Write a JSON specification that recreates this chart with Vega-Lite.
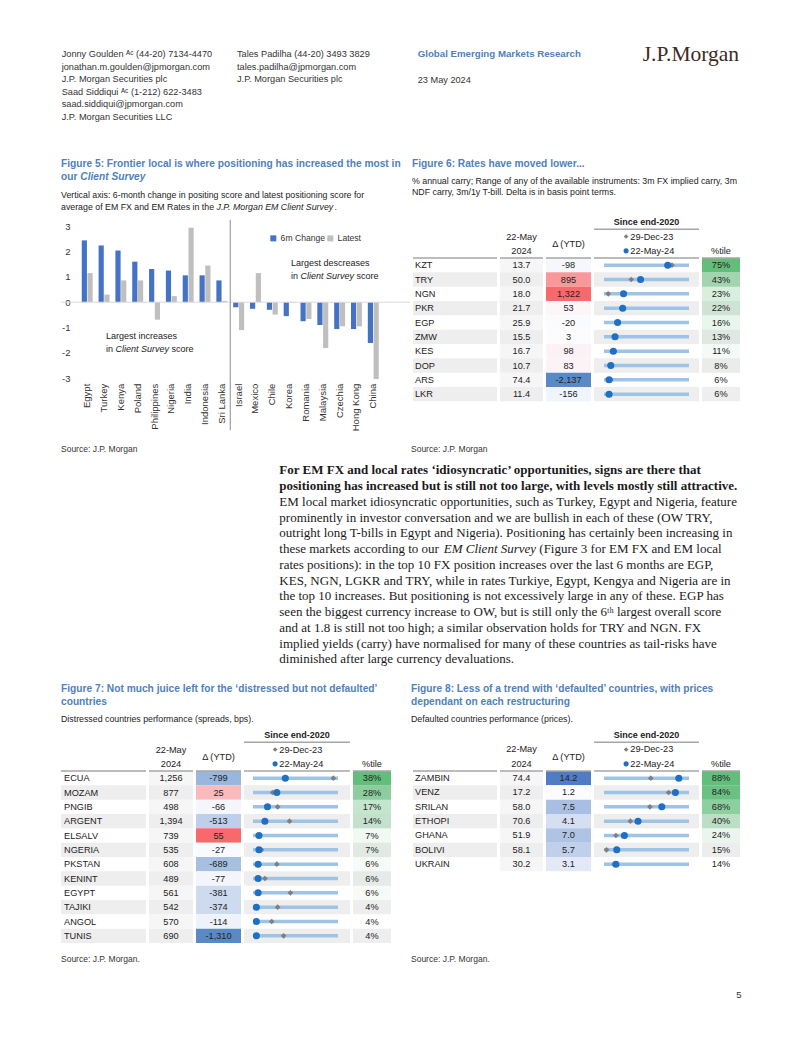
{
"$schema": "https://vega.github.io/schema/vega-lite/v6.json",
"background": "white",
"padding": {"left": 60, "top": 0, "right": 0, "bottom": 0},
"bounds": "full",
"spacing": 0,
"resolve": {"scale": {"color": "independent", "opacity": "independent"}},
"config": {
  "view": {"stroke": null},
  "locale": {"number": {"decimal": ".", "thousands": ",", "grouping": [3], "currency": ["$", ""], "minus": "-"}},
  "font": "Liberation Sans, Arial, sans-serif",
  "text": {"font": "Liberation Sans, Arial, sans-serif", "fontSize": 9.2, "color": "#222", "baseline": "middle"},
  "axis": {"labelFont": "Liberation Sans, Arial, sans-serif", "labelFontSize": 9.5, "labelColor": "#333", "domain": false, "ticks": false, "grid": false, "labelOverlap": false},
  "legend": {"labelFont": "Liberation Sans, Arial, sans-serif", "labelFontSize": 8.6, "labelColor": "#333"}
},
"datasets": {
  "hdr": [
    {"c": "a", "ln": 1, "t": "Jonny Goulden ᴬᶜ (44-20) 7134-4470"},
    {"c": "a", "ln": 2, "t": "jonathan.m.goulden@jpmorgan.com"},
    {"c": "a", "ln": 3, "t": "J.P. Morgan Securities plc"},
    {"c": "a", "ln": 4, "t": "Saad Siddiqui ᴬᶜ (1-212) 622-3483"},
    {"c": "a", "ln": 5, "t": "saad.siddiqui@jpmorgan.com"},
    {"c": "a", "ln": 6, "t": "J.P. Morgan Securities LLC"},
    {"c": "b", "ln": 1, "t": "Tales Padilha  (44-20) 3493 3829"},
    {"c": "b", "ln": 2, "t": "tales.padilha@jpmorgan.com"},
    {"c": "b", "ln": 3, "t": "J.P. Morgan Securities plc"}
  ],
  "para": [
    {"ln": 3, "t": "EM local market idiosyncratic opportunities, such as Turkey, Egypt and Nigeria, feature"},
    {"ln": 4, "t": "prominently in investor conversation and we are bullish in each of these (OW TRY,"},
    {"ln": 5, "t": "outright long T-bills in Egypt and Nigeria). Positioning has certainly been increasing in"},
    {"ln": 6, "t": "these markets according to our"},
    {"ln": 7, "t": "rates positions): in the top 10 FX position increases over the last 6 months are EGP,"},
    {"ln": 8, "t": "KES, NGN, LGKR and TRY, while in rates Turkiye, Egypt, Kengya and Nigeria are in"},
    {"ln": 9, "t": "the top 10 increases. But positioning is not excessively large in any of these. EGP has"},
    {"ln": 10, "t": "seen the biggest currency increase to OW, but is still only the 6ᵗʰ largest overall score"},
    {"ln": 11, "t": "and at 1.8 is still not too high; a similar observation holds for TRY and NGN. FX"},
    {"ln": 12, "t": "implied yields (carry) have normalised for many of these countries as tail-risks have"},
    {"ln": 13, "t": "diminished after large currency devaluations."}
  ],
  "f5": [
    {"c": "Egypt", "s": "6m Change", "v": 2.44}, {"c": "Egypt", "s": "Latest", "v": 1.15},
    {"c": "Turkey", "s": "6m Change", "v": 2.24}, {"c": "Turkey", "s": "Latest", "v": 0.30},
    {"c": "Kenya", "s": "6m Change", "v": 2.04}, {"c": "Kenya", "s": "Latest", "v": 0.86},
    {"c": "Poland", "s": "6m Change", "v": 1.60}, {"c": "Poland", "s": "Latest", "v": 0.86},
    {"c": "Philippines", "s": "6m Change", "v": 1.31}, {"c": "Philippines", "s": "Latest", "v": -0.69},
    {"c": "Nigeria", "s": "6m Change", "v": 1.25}, {"c": "Nigeria", "s": "Latest", "v": 0.24},
    {"c": "India", "s": "6m Change", "v": 1.06}, {"c": "India", "s": "Latest", "v": 2.94},
    {"c": "Indonesia", "s": "6m Change", "v": 1.06}, {"c": "Indonesia", "s": "Latest", "v": 1.45},
    {"c": "Sri Lanka", "s": "6m Change", "v": 0.86}, {"c": "Sri Lanka", "s": "Latest", "v": 0.05},
    {"c": "Israel", "s": "6m Change", "v": -0.20}, {"c": "Israel", "s": "Latest", "v": -1.10},
    {"c": "Mexico", "s": "6m Change", "v": -0.26}, {"c": "Mexico", "s": "Latest", "v": 1.15},
    {"c": "Chile", "s": "6m Change", "v": -0.30}, {"c": "Chile", "s": "Latest", "v": -0.49},
    {"c": "Korea", "s": "6m Change", "v": -0.55}, {"c": "Korea", "s": "Latest", "v": -0.03},
    {"c": "Romania", "s": "6m Change", "v": -0.75}, {"c": "Romania", "s": "Latest", "v": -0.66},
    {"c": "Malaysia", "s": "6m Change", "v": -0.90}, {"c": "Malaysia", "s": "Latest", "v": -1.81},
    {"c": "Czechia", "s": "6m Change", "v": -1.06}, {"c": "Czechia", "s": "Latest", "v": -0.95},
    {"c": "Hong Kong", "s": "6m Change", "v": -1.06}, {"c": "Hong Kong", "s": "Latest", "v": -0.95},
    {"c": "China", "s": "6m Change", "v": -1.61}, {"c": "China", "s": "Latest", "v": -3.03}
  ],
  "f6": [
    {"r": "KZT", "v": 13.7, "d": -98, "p": 0.75, "dec": 0.80},
    {"r": "TRY", "v": 50.0, "d": 895, "p": 0.43, "dec": 0.32},
    {"r": "NGN", "v": 18.0, "d": 1322, "p": 0.23, "dec": 0.05},
    {"r": "PKR", "v": 21.7, "d": 53, "p": 0.22, "dec": 0.21},
    {"r": "EGP", "v": 25.9, "d": -20, "p": 0.16, "dec": 0.15},
    {"r": "ZMW", "v": 15.5, "d": 3, "p": 0.13, "dec": 0.12},
    {"r": "KES", "v": 16.7, "d": 98, "p": 0.11, "dec": 0.10},
    {"r": "DOP", "v": 10.7, "d": 83, "p": 0.08, "dec": 0.07},
    {"r": "ARS", "v": 74.4, "d": -2137, "p": 0.06, "dec": 0.08},
    {"r": "LKR", "v": 11.4, "d": -156, "p": 0.06, "dec": 0.05}
  ],
  "f7": [
    {"r": "ECUA", "v": 1256, "d": -799, "p": 0.38, "dec": 0.945},
    {"r": "MOZAM", "v": 877, "d": 25, "p": 0.28, "dec": 0.23},
    {"r": "PNGIB", "v": 498, "d": -66, "p": 0.17, "dec": 0.29},
    {"r": "ARGENT", "v": 1394, "d": -513, "p": 0.14, "dec": 0.43},
    {"r": "ELSALV", "v": 739, "d": 55, "p": 0.07, "dec": 0.06},
    {"r": "NGERIA", "v": 535, "d": -27, "p": 0.07, "dec": 0.10},
    {"r": "PKSTAN", "v": 608, "d": -689, "p": 0.06, "dec": 0.28},
    {"r": "KENINT", "v": 489, "d": -77, "p": 0.06, "dec": 0.14},
    {"r": "EGYPT", "v": 561, "d": -381, "p": 0.06, "dec": 0.44},
    {"r": "TAJIKI", "v": 542, "d": -374, "p": 0.04, "dec": 0.29},
    {"r": "ANGOL", "v": 570, "d": -114, "p": 0.04, "dec": 0.22},
    {"r": "TUNIS", "v": 690, "d": -1310, "p": 0.04, "dec": 0.36}
  ],
  "f8": [
    {"r": "ZAMBIN", "v": 74.4, "d": 14.2, "p": 0.88, "dec": 0.55},
    {"r": "VENZ", "v": 17.2, "d": 1.2, "p": 0.84, "dec": 0.76},
    {"r": "SRILAN", "v": 58.0, "d": 7.5, "p": 0.68, "dec": 0.54},
    {"r": "ETHOPI", "v": 70.6, "d": 4.1, "p": 0.40, "dec": 0.31},
    {"r": "GHANA", "v": 51.9, "d": 7.0, "p": 0.24, "dec": 0.14},
    {"r": "BOLIVI", "v": 58.1, "d": 5.7, "p": 0.15, "dec": 0.03},
    {"r": "UKRAIN", "v": 30.2, "d": 3.1, "p": 0.14, "dec": 0.12}
  ]
},
"vconcat": [
  {
    "width": 742, "height": 214.8,
    "layer": [
      {"data": {"name": "hdr"}, "mark": {"type": "text", "align": "left", "fontSize": 9.2, "color": "#333"},
       "encoding": {"x": {"field": "c", "type": "nominal", "scale": {"type": "point", "domain": ["a", "b"], "range": [0.7, 176], "padding": 0}, "axis": null},
                    "y": {"field": "ln", "type": "ordinal", "scale": {"type": "point", "domain": [1, 2, 3, 4, 5, 6], "range": [54, 116.5], "padding": 0}, "axis": null},
                    "text": {"field": "t"}}},
      {"data": {"values": [{"c": "c", "ln": 1, "t": "Global Emerging Markets Research"}]}, "mark": {"type": "text", "align": "left", "fontSize": 9.7, "fontWeight": "bold", "color": "#4f81bd"},
       "encoding": {"x": {"field": "c", "type": "nominal", "scale": {"type": "point", "domain": ["c"], "range": [356.7, 356.7], "padding": 0}, "axis": null},
                    "y": {"field": "ln", "type": "ordinal", "scale": {"type": "point", "domain": [1], "range": [54, 54], "padding": 0}, "axis": null},
                    "text": {"field": "t"}}},
      {"data": {"values": [{"c": "c", "ln": 3, "t": "23 May 2024"}]}, "mark": {"type": "text", "align": "left", "fontSize": 9.2, "color": "#333"},
       "encoding": {"x": {"field": "c", "type": "nominal", "scale": {"type": "point", "domain": ["c"], "range": [356.7, 356.7], "padding": 0}, "axis": null},
                    "y": {"field": "ln", "type": "ordinal", "scale": {"type": "point", "domain": [3], "range": [80, 80], "padding": 0}, "axis": null},
                    "text": {"field": "t"}}},
      {"data": {"values": [{"c": "d", "ln": 1, "t": "J.P.Morgan"}]}, "mark": {"type": "text", "align": "left", "font": "Liberation Serif", "fontSize": 21.5, "color": "#3d2b1f"},
       "encoding": {"x": {"field": "c", "type": "nominal", "scale": {"type": "point", "domain": ["d"], "range": [581.7, 581.7], "padding": 0}, "axis": null},
                    "y": {"field": "ln", "type": "ordinal", "scale": {"type": "point", "domain": [1], "range": [55, 55], "padding": 0}, "axis": null},
                    "text": {"field": "t"}}},
      {"data": {"values": [{"c": "a", "ln": 1, "t": "Figure 5: Frontier local is where positioning has increased the most in"}, {"c": "a", "ln": 2, "t": "our"}, {"c": "b", "ln": 1, "t": "Figure 6: Rates have moved lower..."}]},
       "mark": {"type": "text", "align": "left", "fontSize": 10.2, "fontWeight": "bold", "color": "#4f81bd"},
       "encoding": {"x": {"field": "c", "type": "nominal", "scale": {"type": "point", "domain": ["a", "b"], "range": [0, 351], "padding": 0}, "axis": null},
                    "y": {"field": "ln", "type": "ordinal", "scale": {"type": "point", "domain": [1, 2], "range": [163.5, 176.8], "padding": 0}, "axis": null},
                    "text": {"field": "t"}}},
      {"data": {"values": [{"c": "a", "ln": 2, "t": "Client Survey"}]},
       "mark": {"type": "text", "align": "left", "fontSize": 10.2, "fontWeight": "bold", "fontStyle": "italic", "color": "#4f81bd", "dx": 19.3},
       "encoding": {"x": {"field": "c", "type": "nominal", "scale": {"type": "point", "domain": ["a"], "range": [0, 0], "padding": 0}, "axis": null},
                    "y": {"field": "ln", "type": "ordinal", "scale": {"type": "point", "domain": [1, 2], "range": [163.5, 176.8], "padding": 0}, "axis": null},
                    "text": {"field": "t"}}},
      {"data": {"values": [{"c": "a", "ln": 1, "t": "Vertical axis: 6-month change in positing score and latest positioning score for"}, {"c": "a", "ln": 2, "t": "average of EM FX and EM Rates in the"}]},
       "mark": {"type": "text", "align": "left", "fontSize": 8.8, "color": "#222"},
       "encoding": {"x": {"field": "c", "type": "nominal", "scale": {"type": "point", "domain": ["a"], "range": [0, 0], "padding": 0}, "axis": null},
                    "y": {"field": "ln", "type": "ordinal", "scale": {"type": "point", "domain": [1, 2], "range": [195, 206.7], "padding": 0}, "axis": null},
                    "text": {"field": "t"}}},
      {"data": {"values": [{"c": "a", "ln": 2, "t": "J.P. Morgan EM Client Survey"}]},
       "mark": {"type": "text", "align": "left", "fontSize": 8.8, "fontStyle": "italic", "color": "#222", "dx": 155.5},
       "encoding": {"x": {"field": "c", "type": "nominal", "scale": {"type": "point", "domain": ["a"], "range": [0, 0], "padding": 0}, "axis": null},
                    "y": {"field": "ln", "type": "ordinal", "scale": {"type": "point", "domain": [1, 2], "range": [195, 206.7], "padding": 0}, "axis": null},
                    "text": {"field": "t"}}},
      {"data": {"values": [{"c": "a", "ln": 2, "t": "."}]},
       "mark": {"type": "text", "align": "left", "fontSize": 8.8, "color": "#222", "dx": 273.6},
       "encoding": {"x": {"field": "c", "type": "nominal", "scale": {"type": "point", "domain": ["a"], "range": [0, 0], "padding": 0}, "axis": null},
                    "y": {"field": "ln", "type": "ordinal", "scale": {"type": "point", "domain": [1, 2], "range": [195, 206.7], "padding": 0}, "axis": null},
                    "text": {"field": "t"}}},
      {"data": {"values": [{"c": "b", "ln": 1, "t": "% annual carry; Range of any of the available instruments: 3m FX implied carry, 3m"}, {"c": "b", "ln": 2, "t": "NDF carry, 3m/1y T-bill. Delta is in basis point terms."}]},
       "mark": {"type": "text", "align": "left", "fontSize": 8.8, "color": "#222"},
       "encoding": {"x": {"field": "c", "type": "nominal", "scale": {"type": "point", "domain": ["b"], "range": [351, 351], "padding": 0}, "axis": null},
                    "y": {"field": "ln", "type": "ordinal", "scale": {"type": "point", "domain": [1, 2], "range": [180.7, 192.3], "padding": 0}, "axis": null},
                    "text": {"field": "t"}}}
    ],
    "resolve": {"scale": {"x": "independent", "y": "independent"}}
  },
  {
    "spacing": 3, "bounds": "flush",
    "resolve": {"scale": {"color": "independent", "opacity": "independent"}},
    "hconcat": [
      {
        "width": 349, "height": 163.2,
        "layer": [
          {"data": {"name": "f5"}, "mark": {"type": "bar"},
           "encoding": {
             "x": {"field": "c", "type": "nominal", "sort": null, "scale": {"domain": ["Egypt", "Turkey", "Kenya", "Poland", "Philippines", "Nigeria", "India", "Indonesia", "Sri Lanka", "Israel", "Mexico", "Chile", "Korea", "Romania", "Malaysia", "Czechia", "Hong Kong", "China"], "range": [17.8, 320.7], "paddingInner": 0.35, "paddingOuter": 0.175},
                   "axis": {"labelAngle": -90, "labelPadding": 5, "title": null, "labelOverlap": false}},
             "xOffset": {"field": "s", "type": "nominal", "scale": {"paddingInner": 0.1}},
             "y": {"field": "v", "type": "quantitative", "scale": {"domain": [-3, 3.442], "nice": false, "zero": false},
                   "axis": {"values": [-3, -2, -1, 0, 1, 2, 3], "offset": -11, "labelPadding": 2, "title": null, "labelOverlap": false}},
             "color": {"field": "s", "type": "nominal", "scale": {"domain": ["6m Change", "Latest"], "range": ["#4472c4", "#bfbfbf"]},
                       "legend": {"orient": "none", "legendX": 208, "legendY": 19, "direction": "horizontal", "title": null, "symbolType": "square", "symbolSize": 36, "columnPadding": -3, "labelOffset": 3}}
           }},
          {"data": {"values": [{}]}, "mark": {"type": "rule", "color": "#d9d9d9", "strokeWidth": 1}, "encoding": {"y": {"datum": 0, "type": "quantitative", "axis": {"values": [-3, -2, -1, 0, 1, 2, 3], "offset": -11, "labelPadding": 2, "title": null, "labelOverlap": false}}}},
          {"data": {"values": [{}]}, "mark": {"type": "rule", "color": "#8c8c8c", "strokeWidth": 1},
           "encoding": {"x": {"datum": "Israel", "bandPosition": -0.27}, "y": {"datum": 3.25, "axis": {"values": [-3, -2, -1, 0, 1, 2, 3], "offset": -11, "labelPadding": 2, "title": null, "labelOverlap": false}}, "y2": {"datum": -5.05}}},
          {"data": {"values": [{}]}, "mark": {"type": "text", "align": "left", "fontSize": 9}, "encoding": {"x": {"datum": "Korea", "bandPosition": 0.67}, "y": {"datum": 1.53, "axis": {"values": [-3, -2, -1, 0, 1, 2, 3], "offset": -11, "labelPadding": 2, "title": null, "labelOverlap": false}}, "text": {"value": "Largest descreases"}}},
          {"data": {"values": [{}]}, "mark": {"type": "text", "align": "left", "fontSize": 9}, "encoding": {"x": {"datum": "Korea", "bandPosition": 0.67}, "y": {"datum": 1.03, "axis": {"values": [-3, -2, -1, 0, 1, 2, 3], "offset": -11, "labelPadding": 2, "title": null, "labelOverlap": false}}, "text": {"value": "in"}}},
          {"data": {"values": [{}]}, "mark": {"type": "text", "align": "left", "fontSize": 9, "fontStyle": "italic", "dx": 9.5}, "encoding": {"x": {"datum": "Korea", "bandPosition": 0.67}, "y": {"datum": 1.03, "axis": {"values": [-3, -2, -1, 0, 1, 2, 3], "offset": -11, "labelPadding": 2, "title": null, "labelOverlap": false}}, "text": {"value": "Client Survey"}}},
          {"data": {"values": [{}]}, "mark": {"type": "text", "align": "left", "fontSize": 9, "dx": 65.5}, "encoding": {"x": {"datum": "Korea", "bandPosition": 0.67}, "y": {"datum": 1.03, "axis": {"values": [-3, -2, -1, 0, 1, 2, 3], "offset": -11, "labelPadding": 2, "title": null, "labelOverlap": false}}, "text": {"value": "score"}}},
          {"data": {"values": [{}]}, "mark": {"type": "text", "align": "left", "fontSize": 9}, "encoding": {"x": {"datum": "Turkey", "bandPosition": 0.68}, "y": {"datum": -1.34, "axis": {"values": [-3, -2, -1, 0, 1, 2, 3], "offset": -11, "labelPadding": 2, "title": null, "labelOverlap": false}}, "text": {"value": "Largest increases"}}},
          {"data": {"values": [{}]}, "mark": {"type": "text", "align": "left", "fontSize": 9}, "encoding": {"x": {"datum": "Turkey", "bandPosition": 0.68}, "y": {"datum": -1.83, "axis": {"values": [-3, -2, -1, 0, 1, 2, 3], "offset": -11, "labelPadding": 2, "title": null, "labelOverlap": false}}, "text": {"value": "in"}}},
          {"data": {"values": [{}]}, "mark": {"type": "text", "align": "left", "fontSize": 9, "fontStyle": "italic", "dx": 9.5}, "encoding": {"x": {"datum": "Turkey", "bandPosition": 0.68}, "y": {"datum": -1.83, "axis": {"values": [-3, -2, -1, 0, 1, 2, 3], "offset": -11, "labelPadding": 2, "title": null, "labelOverlap": false}}, "text": {"value": "Client Survey"}}},
          {"data": {"values": [{}]}, "mark": {"type": "text", "align": "left", "fontSize": 9, "dx": 65.5}, "encoding": {"x": {"datum": "Turkey", "bandPosition": 0.68}, "y": {"datum": -1.83, "axis": {"values": [-3, -2, -1, 0, 1, 2, 3], "offset": -11, "labelPadding": 2, "title": null, "labelOverlap": false}}, "text": {"value": "score"}}}
        ]
      },
      {"width": 84, "height": 215, "data": {"name": "f6"},
       "encoding": {"y": {"field": "r", "type": "nominal", "scale": {"domain": ["h1", "h2", "h3", "KZT", "TRY", "NGN", "PKR", "EGP", "ZMW", "KES", "DOP", "ARS", "LKR", "z1", "z2"], "paddingInner": 0, "paddingOuter": 0}, "axis": null}},
       "layer": [
         {"transform": [{"window": [{"op": "row_number", "as": "rn"}]}, {"filter": "datum.rn % 2 == 0"}], "mark": {"type": "rect", "color": "#eeeeee"}},
         {"mark": {"type": "text", "align": "left", "dx": 2}, "encoding": {"x": {"datum": 0, "type": "quantitative", "scale": {"domain": [0, 1]}, "axis": null}, "text": {"field": "r"}}},
         {"data": {"values": [{"r": "h3"}]}, "mark": {"type": "rule", "color": "#a6a6a6", "strokeWidth": 1.5}, "encoding": {"y": {"field": "r", "type": "nominal", "bandPosition": 1, "axis": null}}}
       ]},
      {"width": 43, "height": 215, "data": {"name": "f6"},
       "encoding": {"y": {"field": "r", "type": "nominal", "scale": {"domain": ["h1", "h2", "h3", "KZT", "TRY", "NGN", "PKR", "EGP", "ZMW", "KES", "DOP", "ARS", "LKR", "z1", "z2"], "paddingInner": 0, "paddingOuter": 0}, "axis": null}},
       "layer": [
         {"transform": [{"window": [{"op": "row_number", "as": "rn"}]}], "mark": {"type": "rect"}, "encoding": {"color": {"condition": {"test": "datum.rn % 2 == 0", "value": "#eeeeee"}, "value": "#f6f6f6"}}},
         {"mark": {"type": "text"}, "encoding": {"text": {"field": "v", "format": ".1f"}}},
         {"data": {"values": [{"r": "h2", "t": "22-May"}, {"r": "h3", "t": "2024"}]}, "mark": {"type": "text"}, "encoding": {"text": {"field": "t"}}},
         {"data": {"values": [{"r": "h3"}]}, "mark": {"type": "rule", "color": "#a6a6a6", "strokeWidth": 1.5}, "encoding": {"y": {"field": "r", "type": "nominal", "bandPosition": 1, "axis": null}}}
       ]},
      {"width": 45, "height": 215, "data": {"name": "f6"},
       "encoding": {"y": {"field": "r", "type": "nominal", "scale": {"domain": ["h1", "h2", "h3", "KZT", "TRY", "NGN", "PKR", "EGP", "ZMW", "KES", "DOP", "ARS", "LKR", "z1", "z2"], "paddingInner": 0, "paddingOuter": 0}, "axis": null}},
       "layer": [
         {"mark": {"type": "rect"}, "encoding": {"color": {"field": "d", "type": "quantitative", "scale": {"domain": [-2137, 0, 1322], "range": ["#5a8ac6", "#fcfcff", "#f8696b"], "interpolate": "rgb"}, "legend": null}}},
         {"mark": {"type": "text"}, "encoding": {"text": {"field": "d", "format": ",.0f"}}},
         {"data": {"values": [{"r": "h2"}]}, "mark": {"type": "text"}, "encoding": {"y": {"field": "r", "type": "nominal", "bandPosition": 1, "axis": null}, "text": {"value": "Δ (YTD)"}}},
         {"data": {"values": [{"r": "h3"}]}, "mark": {"type": "rule", "color": "#a6a6a6", "strokeWidth": 1.5}, "encoding": {"y": {"field": "r", "type": "nominal", "bandPosition": 1, "axis": null}}}
       ]},
      {"width": 105, "height": 215, "data": {"name": "f6"},
       "encoding": {"y": {"field": "r", "type": "nominal", "scale": {"domain": ["h1", "h2", "h3", "KZT", "TRY", "NGN", "PKR", "EGP", "ZMW", "KES", "DOP", "ARS", "LKR", "z1", "z2"], "paddingInner": 0, "paddingOuter": 0}, "axis": null}},
       "layer": [
         {"transform": [{"window": [{"op": "row_number", "as": "rn"}]}, {"filter": "datum.rn % 2 == 0"}], "mark": {"type": "rect", "color": "#eeeeee"}},
         {"mark": {"type": "rule", "color": "#9dc3e6", "strokeWidth": 3.5}, "encoding": {"x": {"datum": 0, "type": "quantitative", "scale": {"domain": [-0.1176, 1.1176], "nice": false, "zero": false}, "axis": null}, "x2": {"datum": 1}}},
         {"mark": {"type": "point", "shape": "diamond", "filled": true, "color": "#7f7f7f", "size": 32, "opacity": 1}, "encoding": {"x": {"field": "dec", "type": "quantitative", "scale": {"domain": [-0.1176, 1.1176], "nice": false, "zero": false}, "axis": null}}},
         {"mark": {"type": "point", "shape": "circle", "filled": true, "color": "#1f6fc5", "size": 50, "opacity": 1}, "encoding": {"x": {"field": "p", "type": "quantitative", "scale": {"domain": [-0.1176, 1.1176], "nice": false, "zero": false}, "axis": null}}},
         {"data": {"values": [{"r": "h1"}]}, "mark": {"type": "text", "fontWeight": "bold", "fontSize": 9}, "encoding": {"text": {"value": "Since end-2020"}}},
         {"data": {"values": [{"r": "h1"}, {"r": "h3"}]}, "mark": {"type": "rule", "color": "#a6a6a6", "strokeWidth": 1.5}, "encoding": {"y": {"field": "r", "type": "nominal", "bandPosition": 1, "axis": null}}},
         {"data": {"values": [{"r": "h2"}]}, "mark": {"type": "point", "shape": "diamond", "filled": true, "color": "#7f7f7f", "size": 22, "opacity": 1}, "encoding": {"x": {"datum": 0.26, "type": "quantitative", "scale": {"domain": [-0.1176, 1.1176], "nice": false, "zero": false}, "axis": null}}},
         {"data": {"values": [{"r": "h3"}]}, "mark": {"type": "point", "shape": "circle", "filled": true, "color": "#1f6fc5", "size": 26, "opacity": 1}, "encoding": {"x": {"datum": 0.26, "type": "quantitative", "scale": {"domain": [-0.1176, 1.1176], "nice": false, "zero": false}, "axis": null}}},
         {"data": {"values": [{"r": "h2", "t": "29-Dec-23"}, {"r": "h3", "t": "22-May-24"}]}, "mark": {"type": "text", "align": "left"}, "encoding": {"x": {"datum": 0.31, "type": "quantitative", "scale": {"domain": [-0.1176, 1.1176], "nice": false, "zero": false}, "axis": null}, "text": {"field": "t"}}}
       ]},
      {"width": 38, "height": 215, "data": {"name": "f6"},
       "encoding": {"y": {"field": "r", "type": "nominal", "scale": {"domain": ["h1", "h2", "h3", "KZT", "TRY", "NGN", "PKR", "EGP", "ZMW", "KES", "DOP", "ARS", "LKR", "z1", "z2"], "paddingInner": 0, "paddingOuter": 0}, "axis": null}},
       "layer": [
         {"transform": [{"window": [{"op": "row_number", "as": "rn"}]}, {"filter": "datum.rn % 2 == 0"}], "mark": {"type": "rect", "color": "#eeeeee"}},
         {"mark": {"type": "rect", "color": "#63be7b"}, "encoding": {"opacity": {"field": "p", "type": "quantitative", "scale": {"domain": [0.06, 0.75], "range": [0, 1]}, "legend": null}}},
         {"mark": {"type": "text"}, "encoding": {"text": {"field": "p", "format": ".0%"}}},
         {"data": {"values": [{"r": "h3"}]}, "mark": {"type": "text"}, "encoding": {"text": {"value": "%tile"}}},
         {"data": {"values": [{"r": "h3"}]}, "mark": {"type": "rule", "color": "#a6a6a6", "strokeWidth": 1.5}, "encoding": {"y": {"field": "r", "type": "nominal", "bandPosition": 1, "axis": null}}}
       ]}
    ]
  },
  {
    "width": 742, "height": 296.8,
    "layer": [
      {"data": {"values": [{"c": "a", "t": "Source: J.P. Morgan"}, {"c": "b", "t": "Source: J.P. Morgan"}]}, "mark": {"type": "text", "align": "left", "fontSize": 8.5, "color": "#333"},
       "encoding": {"x": {"field": "c", "type": "nominal", "scale": {"type": "point", "domain": ["a", "b"], "range": [0, 350], "padding": 0}, "axis": null},
                    "y": {"datum": "s", "type": "nominal", "scale": {"type": "point", "domain": ["s"], "range": [18, 18], "padding": 0}, "axis": null},
                    "text": {"field": "t"}}},
      {"data": {"values": [{"ln": 1, "t": "For EM FX and local rates ‘idiosyncratic’ opportunities, signs are there that"}, {"ln": 2, "t": "positioning has increased but is still not too large, with levels mostly still attractive."}]},
       "mark": {"type": "text", "align": "left", "font": "Liberation Serif", "fontSize": 13, "fontWeight": "bold", "color": "#1a1a1a"},
       "encoding": {"x": {"datum": "p", "type": "nominal", "scale": {"type": "point", "domain": ["p"], "range": [218.3, 218.3], "padding": 0}, "axis": null},
                    "y": {"field": "ln", "type": "ordinal", "scale": {"type": "point", "domain": [1, 2, 3, 4, 5, 6, 7, 8, 9, 10, 11, 12, 13], "range": [39.3, 228.3], "padding": 0}, "axis": null},
                    "text": {"field": "t"}}},
      {"data": {"name": "para"},
       "mark": {"type": "text", "align": "left", "font": "Liberation Serif", "fontSize": 13, "color": "#1a1a1a"},
       "encoding": {"x": {"datum": "p", "type": "nominal", "scale": {"type": "point", "domain": ["p"], "range": [218.3, 218.3], "padding": 0}, "axis": null},
                    "y": {"field": "ln", "type": "ordinal", "scale": {"type": "point", "domain": [1, 2, 3, 4, 5, 6, 7, 8, 9, 10, 11, 12, 13], "range": [39.3, 228.3], "padding": 0}, "axis": null},
                    "text": {"field": "t"}}},
      {"data": {"values": [{"ln": 6, "t": "EM Client Survey"}]},
       "mark": {"type": "text", "align": "left", "font": "Liberation Serif", "fontSize": 13, "fontStyle": "italic", "color": "#1a1a1a", "dx": 164.4},
       "encoding": {"x": {"datum": "p", "type": "nominal", "scale": {"type": "point", "domain": ["p"], "range": [218.3, 218.3], "padding": 0}, "axis": null},
                    "y": {"field": "ln", "type": "ordinal", "scale": {"type": "point", "domain": [1, 2, 3, 4, 5, 6, 7, 8, 9, 10, 11, 12, 13], "range": [39.3, 228.3], "padding": 0}, "axis": null},
                    "text": {"field": "t"}}},
      {"data": {"values": [{"ln": 6, "t": "(Figure 3 for EM FX and EM local"}]},
       "mark": {"type": "text", "align": "left", "font": "Liberation Serif", "fontSize": 13, "color": "#1a1a1a", "dx": 260},
       "encoding": {"x": {"datum": "p", "type": "nominal", "scale": {"type": "point", "domain": ["p"], "range": [218.3, 218.3], "padding": 0}, "axis": null},
                    "y": {"field": "ln", "type": "ordinal", "scale": {"type": "point", "domain": [1, 2, 3, 4, 5, 6, 7, 8, 9, 10, 11, 12, 13], "range": [39.3, 228.3], "padding": 0}, "axis": null},
                    "text": {"field": "t"}}},
      {"data": {"values": [{"c": "a", "ln": 1, "t": "Figure 7: Not much juice left for the ‘distressed but not defaulted’"}, {"c": "a", "ln": 2, "t": "countries"}, {"c": "b", "ln": 1, "t": "Figure 8: Less of a trend with ‘defaulted’ countries, with prices"}, {"c": "b", "ln": 2, "t": "dependant on each restructuring"}]},
       "mark": {"type": "text", "align": "left", "fontSize": 10.2, "fontWeight": "bold", "color": "#4f81bd"},
       "encoding": {"x": {"field": "c", "type": "nominal", "scale": {"type": "point", "domain": ["a", "b"], "range": [0, 350], "padding": 0}, "axis": null},
                    "y": {"field": "ln", "type": "ordinal", "scale": {"type": "point", "domain": [1, 2], "range": [258, 271], "padding": 0}, "axis": null},
                    "text": {"field": "t"}}},
      {"data": {"values": [{"c": "a", "t": "Distressed countries performance (spreads, bps)."}, {"c": "b", "t": "Defaulted countries performance (prices)."}]},
       "mark": {"type": "text", "align": "left", "fontSize": 8.8, "color": "#222"},
       "encoding": {"x": {"field": "c", "type": "nominal", "scale": {"type": "point", "domain": ["a", "b"], "range": [0, 350], "padding": 0}, "axis": null},
                    "y": {"datum": "s", "type": "nominal", "scale": {"type": "point", "domain": ["s"], "range": [288, 288], "padding": 0}, "axis": null},
                    "text": {"field": "t"}}}
    ],
    "resolve": {"scale": {"x": "independent", "y": "independent"}}
  },
  {
    "spacing": 3, "bounds": "flush",
    "resolve": {"scale": {"color": "independent", "opacity": "independent"}},
    "hconcat": [
      {"width": 85, "height": 215, "data": {"name": "f7"},
       "encoding": {"y": {"field": "r", "type": "nominal", "scale": {"domain": ["h1", "h2", "h3", "ECUA", "MOZAM", "PNGIB", "ARGENT", "ELSALV", "NGERIA", "PKSTAN", "KENINT", "EGYPT", "TAJIKI", "ANGOL", "TUNIS"], "paddingInner": 0, "paddingOuter": 0}, "axis": null}},
       "layer": [
         {"transform": [{"window": [{"op": "row_number", "as": "rn"}]}, {"filter": "datum.rn % 2 == 0"}], "mark": {"type": "rect", "color": "#eeeeee"}},
         {"mark": {"type": "text", "align": "left", "dx": 3}, "encoding": {"x": {"datum": 0, "type": "quantitative", "scale": {"domain": [0, 1]}, "axis": null}, "text": {"field": "r"}}},
         {"data": {"values": [{"r": "h3"}]}, "mark": {"type": "rule", "color": "#a6a6a6", "strokeWidth": 1.5}, "encoding": {"y": {"field": "r", "type": "nominal", "bandPosition": 1, "axis": null}}}
       ]},
      {"width": 44, "height": 215, "data": {"name": "f7"},
       "encoding": {"y": {"field": "r", "type": "nominal", "scale": {"domain": ["h1", "h2", "h3", "ECUA", "MOZAM", "PNGIB", "ARGENT", "ELSALV", "NGERIA", "PKSTAN", "KENINT", "EGYPT", "TAJIKI", "ANGOL", "TUNIS"], "paddingInner": 0, "paddingOuter": 0}, "axis": null}},
       "layer": [
         {"transform": [{"window": [{"op": "row_number", "as": "rn"}]}], "mark": {"type": "rect"}, "encoding": {"color": {"condition": {"test": "datum.rn % 2 == 0", "value": "#eeeeee"}, "value": "#f6f6f6"}}},
         {"mark": {"type": "text"}, "encoding": {"text": {"field": "v", "format": ",.0f"}}},
         {"data": {"values": [{"r": "h2", "t": "22-May"}, {"r": "h3", "t": "2024"}]}, "mark": {"type": "text"}, "encoding": {"text": {"field": "t"}}},
         {"data": {"values": [{"r": "h3"}]}, "mark": {"type": "rule", "color": "#a6a6a6", "strokeWidth": 1.5}, "encoding": {"y": {"field": "r", "type": "nominal", "bandPosition": 1, "axis": null}}}
       ]},
      {"width": 45, "height": 215, "data": {"name": "f7"},
       "encoding": {"y": {"field": "r", "type": "nominal", "scale": {"domain": ["h1", "h2", "h3", "ECUA", "MOZAM", "PNGIB", "ARGENT", "ELSALV", "NGERIA", "PKSTAN", "KENINT", "EGYPT", "TAJIKI", "ANGOL", "TUNIS"], "paddingInner": 0, "paddingOuter": 0}, "axis": null}},
       "layer": [
         {"mark": {"type": "rect"}, "encoding": {"color": {"field": "d", "type": "quantitative", "scale": {"domain": [-1310, 0, 55], "range": ["#5a8ac6", "#fcfcff", "#f8696b"], "interpolate": "rgb"}, "legend": null}}},
         {"mark": {"type": "text"}, "encoding": {"text": {"field": "d", "format": ",.0f"}}},
         {"data": {"values": [{"r": "h2"}]}, "mark": {"type": "text"}, "encoding": {"y": {"field": "r", "type": "nominal", "bandPosition": 1, "axis": null}, "text": {"value": "Δ (YTD)"}}},
         {"data": {"values": [{"r": "h3"}]}, "mark": {"type": "rule", "color": "#a6a6a6", "strokeWidth": 1.5}, "encoding": {"y": {"field": "r", "type": "nominal", "bandPosition": 1, "axis": null}}}
       ]},
      {"width": 106, "height": 215, "data": {"name": "f7"},
       "encoding": {"y": {"field": "r", "type": "nominal", "scale": {"domain": ["h1", "h2", "h3", "ECUA", "MOZAM", "PNGIB", "ARGENT", "ELSALV", "NGERIA", "PKSTAN", "KENINT", "EGYPT", "TAJIKI", "ANGOL", "TUNIS"], "paddingInner": 0, "paddingOuter": 0}, "axis": null}},
       "layer": [
         {"transform": [{"window": [{"op": "row_number", "as": "rn"}]}, {"filter": "datum.rn % 2 == 0"}], "mark": {"type": "rect", "color": "#eeeeee"}},
         {"mark": {"type": "rule", "color": "#9dc3e6", "strokeWidth": 3.5}, "encoding": {"x": {"datum": 0, "type": "quantitative", "scale": {"domain": [-0.1059, 1.1412], "nice": false, "zero": false}, "axis": null}, "x2": {"datum": 1}}},
         {"mark": {"type": "point", "shape": "diamond", "filled": true, "color": "#7f7f7f", "size": 32, "opacity": 1}, "encoding": {"x": {"field": "dec", "type": "quantitative", "scale": {"domain": [-0.1059, 1.1412], "nice": false, "zero": false}, "axis": null}}},
         {"mark": {"type": "point", "shape": "circle", "filled": true, "color": "#1f6fc5", "size": 50, "opacity": 1}, "encoding": {"x": {"field": "p", "type": "quantitative", "scale": {"domain": [-0.1059, 1.1412], "nice": false, "zero": false}, "axis": null}}},
         {"data": {"values": [{"r": "h1"}]}, "mark": {"type": "text", "fontWeight": "bold", "fontSize": 9}, "encoding": {"text": {"value": "Since end-2020"}}},
         {"data": {"values": [{"r": "h1"}, {"r": "h3"}]}, "mark": {"type": "rule", "color": "#a6a6a6", "strokeWidth": 1.5}, "encoding": {"y": {"field": "r", "type": "nominal", "bandPosition": 1, "axis": null}}},
         {"data": {"values": [{"r": "h2"}]}, "mark": {"type": "point", "shape": "diamond", "filled": true, "color": "#7f7f7f", "size": 22, "opacity": 1}, "encoding": {"x": {"datum": 0.26, "type": "quantitative", "scale": {"domain": [-0.1059, 1.1412], "nice": false, "zero": false}, "axis": null}}},
         {"data": {"values": [{"r": "h3"}]}, "mark": {"type": "point", "shape": "circle", "filled": true, "color": "#1f6fc5", "size": 26, "opacity": 1}, "encoding": {"x": {"datum": 0.26, "type": "quantitative", "scale": {"domain": [-0.1059, 1.1412], "nice": false, "zero": false}, "axis": null}}},
         {"data": {"values": [{"r": "h2", "t": "29-Dec-23"}, {"r": "h3", "t": "22-May-24"}]}, "mark": {"type": "text", "align": "left"}, "encoding": {"x": {"datum": 0.31, "type": "quantitative", "scale": {"domain": [-0.1059, 1.1412], "nice": false, "zero": false}, "axis": null}, "text": {"field": "t"}}}
       ]},
      {"width": 38, "height": 215, "data": {"name": "f7"},
       "encoding": {"y": {"field": "r", "type": "nominal", "scale": {"domain": ["h1", "h2", "h3", "ECUA", "MOZAM", "PNGIB", "ARGENT", "ELSALV", "NGERIA", "PKSTAN", "KENINT", "EGYPT", "TAJIKI", "ANGOL", "TUNIS"], "paddingInner": 0, "paddingOuter": 0}, "axis": null}},
       "layer": [
         {"transform": [{"window": [{"op": "row_number", "as": "rn"}]}, {"filter": "datum.rn % 2 == 0"}], "mark": {"type": "rect", "color": "#eeeeee"}},
         {"mark": {"type": "rect", "color": "#63be7b"}, "encoding": {"opacity": {"field": "p", "type": "quantitative", "scale": {"domain": [0.04, 0.38], "range": [0, 1]}, "legend": null}}},
         {"mark": {"type": "text"}, "encoding": {"text": {"field": "p", "format": ".0%"}}},
         {"data": {"values": [{"r": "h3"}]}, "mark": {"type": "text"}, "encoding": {"text": {"value": "%tile"}}},
         {"data": {"values": [{"r": "h3"}]}, "mark": {"type": "rule", "color": "#a6a6a6", "strokeWidth": 1.5}, "encoding": {"y": {"field": "r", "type": "nominal", "bandPosition": 1, "axis": null}}}
       ]},
      {"width": 16, "height": 10, "data": {"values": [{}]}, "mark": {"type": "text", "text": ""}, "encoding": {}},
      {"width": 84, "height": 143.33, "data": {"name": "f8"},
       "encoding": {"y": {"field": "r", "type": "nominal", "scale": {"domain": ["h1", "h2", "h3", "ZAMBIN", "VENZ", "SRILAN", "ETHOPI", "GHANA", "BOLIVI", "UKRAIN"], "paddingInner": 0, "paddingOuter": 0}, "axis": null}},
       "layer": [
         {"transform": [{"window": [{"op": "row_number", "as": "rn"}]}, {"filter": "datum.rn % 2 == 0"}], "mark": {"type": "rect", "color": "#eeeeee"}},
         {"mark": {"type": "text", "align": "left", "dx": 2}, "encoding": {"x": {"datum": 0, "type": "quantitative", "scale": {"domain": [0, 1]}, "axis": null}, "text": {"field": "r"}}},
         {"data": {"values": [{"r": "h3"}]}, "mark": {"type": "rule", "color": "#a6a6a6", "strokeWidth": 1.5}, "encoding": {"y": {"field": "r", "type": "nominal", "bandPosition": 1, "axis": null}}}
       ]},
      {"width": 43, "height": 143.33, "data": {"name": "f8"},
       "encoding": {"y": {"field": "r", "type": "nominal", "scale": {"domain": ["h1", "h2", "h3", "ZAMBIN", "VENZ", "SRILAN", "ETHOPI", "GHANA", "BOLIVI", "UKRAIN"], "paddingInner": 0, "paddingOuter": 0}, "axis": null}},
       "layer": [
         {"transform": [{"window": [{"op": "row_number", "as": "rn"}]}], "mark": {"type": "rect"}, "encoding": {"color": {"condition": {"test": "datum.rn % 2 == 0", "value": "#eeeeee"}, "value": "#f6f6f6"}}},
         {"mark": {"type": "text"}, "encoding": {"text": {"field": "v", "format": ".1f"}}},
         {"data": {"values": [{"r": "h2", "t": "22-May"}, {"r": "h3", "t": "2024"}]}, "mark": {"type": "text"}, "encoding": {"text": {"field": "t"}}},
         {"data": {"values": [{"r": "h3"}]}, "mark": {"type": "rule", "color": "#a6a6a6", "strokeWidth": 1.5}, "encoding": {"y": {"field": "r", "type": "nominal", "bandPosition": 1, "axis": null}}}
       ]},
      {"width": 45, "height": 143.33, "data": {"name": "f8"},
       "encoding": {"y": {"field": "r", "type": "nominal", "scale": {"domain": ["h1", "h2", "h3", "ZAMBIN", "VENZ", "SRILAN", "ETHOPI", "GHANA", "BOLIVI", "UKRAIN"], "paddingInner": 0, "paddingOuter": 0}, "axis": null}},
       "layer": [
         {"mark": {"type": "rect"}, "encoding": {"color": {"field": "d", "type": "quantitative", "scale": {"domain": [1.2, 14.2], "range": ["#fcfcff", "#4f7cc4"], "interpolate": "rgb"}, "legend": null}}},
         {"mark": {"type": "text"}, "encoding": {"text": {"field": "d", "format": ".1f"}}},
         {"data": {"values": [{"r": "h2"}]}, "mark": {"type": "text"}, "encoding": {"y": {"field": "r", "type": "nominal", "bandPosition": 1, "axis": null}, "text": {"value": "Δ (YTD)"}}},
         {"data": {"values": [{"r": "h3"}]}, "mark": {"type": "rule", "color": "#a6a6a6", "strokeWidth": 1.5}, "encoding": {"y": {"field": "r", "type": "nominal", "bandPosition": 1, "axis": null}}}
       ]},
      {"width": 105, "height": 143.33, "data": {"name": "f8"},
       "encoding": {"y": {"field": "r", "type": "nominal", "scale": {"domain": ["h1", "h2", "h3", "ZAMBIN", "VENZ", "SRILAN", "ETHOPI", "GHANA", "BOLIVI", "UKRAIN"], "paddingInner": 0, "paddingOuter": 0}, "axis": null}},
       "layer": [
         {"transform": [{"window": [{"op": "row_number", "as": "rn"}]}, {"filter": "datum.rn % 2 == 0"}], "mark": {"type": "rect", "color": "#eeeeee"}},
         {"mark": {"type": "rule", "color": "#9dc3e6", "strokeWidth": 3.5}, "encoding": {"x": {"datum": 0, "type": "quantitative", "scale": {"domain": [-0.1176, 1.1176], "nice": false, "zero": false}, "axis": null}, "x2": {"datum": 1}}},
         {"mark": {"type": "point", "shape": "diamond", "filled": true, "color": "#7f7f7f", "size": 32, "opacity": 1}, "encoding": {"x": {"field": "dec", "type": "quantitative", "scale": {"domain": [-0.1176, 1.1176], "nice": false, "zero": false}, "axis": null}}},
         {"mark": {"type": "point", "shape": "circle", "filled": true, "color": "#1f6fc5", "size": 50, "opacity": 1}, "encoding": {"x": {"field": "p", "type": "quantitative", "scale": {"domain": [-0.1176, 1.1176], "nice": false, "zero": false}, "axis": null}}},
         {"data": {"values": [{"r": "h1"}]}, "mark": {"type": "text", "fontWeight": "bold", "fontSize": 9}, "encoding": {"text": {"value": "Since end-2020"}}},
         {"data": {"values": [{"r": "h1"}, {"r": "h3"}]}, "mark": {"type": "rule", "color": "#a6a6a6", "strokeWidth": 1.5}, "encoding": {"y": {"field": "r", "type": "nominal", "bandPosition": 1, "axis": null}}},
         {"data": {"values": [{"r": "h2"}]}, "mark": {"type": "point", "shape": "diamond", "filled": true, "color": "#7f7f7f", "size": 22, "opacity": 1}, "encoding": {"x": {"datum": 0.26, "type": "quantitative", "scale": {"domain": [-0.1176, 1.1176], "nice": false, "zero": false}, "axis": null}}},
         {"data": {"values": [{"r": "h3"}]}, "mark": {"type": "point", "shape": "circle", "filled": true, "color": "#1f6fc5", "size": 26, "opacity": 1}, "encoding": {"x": {"datum": 0.26, "type": "quantitative", "scale": {"domain": [-0.1176, 1.1176], "nice": false, "zero": false}, "axis": null}}},
         {"data": {"values": [{"r": "h2", "t": "29-Dec-23"}, {"r": "h3", "t": "22-May-24"}]}, "mark": {"type": "text", "align": "left"}, "encoding": {"x": {"datum": 0.31, "type": "quantitative", "scale": {"domain": [-0.1176, 1.1176], "nice": false, "zero": false}, "axis": null}, "text": {"field": "t"}}}
       ]},
      {"width": 38, "height": 143.33, "data": {"name": "f8"},
       "encoding": {"y": {"field": "r", "type": "nominal", "scale": {"domain": ["h1", "h2", "h3", "ZAMBIN", "VENZ", "SRILAN", "ETHOPI", "GHANA", "BOLIVI", "UKRAIN"], "paddingInner": 0, "paddingOuter": 0}, "axis": null}},
       "layer": [
         {"transform": [{"window": [{"op": "row_number", "as": "rn"}]}, {"filter": "datum.rn % 2 == 0"}], "mark": {"type": "rect", "color": "#eeeeee"}},
         {"mark": {"type": "rect", "color": "#63be7b"}, "encoding": {"opacity": {"field": "p", "type": "quantitative", "scale": {"domain": [0.14, 0.88], "range": [0, 1]}, "legend": null}}},
         {"mark": {"type": "text"}, "encoding": {"text": {"field": "p", "format": ".0%"}}},
         {"data": {"values": [{"r": "h3"}]}, "mark": {"type": "text"}, "encoding": {"text": {"value": "%tile"}}},
         {"data": {"values": [{"r": "h3"}]}, "mark": {"type": "rule", "color": "#a6a6a6", "strokeWidth": 1.5}, "encoding": {"y": {"field": "r", "type": "nominal", "bandPosition": 1, "axis": null}}}
       ]}
    ]
  },
  {
    "width": 742, "height": 95.2,
    "layer": [
      {"data": {"values": [{"c": "a", "t": "Source: J.P. Morgan."}, {"c": "b", "t": "Source: J.P. Morgan."}]}, "mark": {"type": "text", "align": "left", "fontSize": 8.5, "color": "#333"},
       "encoding": {"x": {"field": "c", "type": "nominal", "scale": {"type": "point", "domain": ["a", "b"], "range": [0, 350], "padding": 0}, "axis": null},
                    "y": {"datum": "s", "type": "nominal", "scale": {"type": "point", "domain": ["s"], "range": [14.9, 14.9], "padding": 0}, "axis": null},
                    "text": {"field": "t"}}},
      {"data": {"values": [{"t": "5"}]}, "mark": {"type": "text", "align": "center", "fontSize": 9.5, "color": "#333"},
       "encoding": {"x": {"datum": "n", "type": "nominal", "scale": {"type": "point", "domain": ["n"], "range": [678, 678], "padding": 0}, "axis": null},
                    "y": {"datum": "n", "type": "nominal", "scale": {"type": "point", "domain": ["n"], "range": [51.2, 51.2], "padding": 0}, "axis": null},
                    "text": {"field": "t"}}}
    ],
    "resolve": {"scale": {"x": "independent", "y": "independent"}}
  }
]
}
